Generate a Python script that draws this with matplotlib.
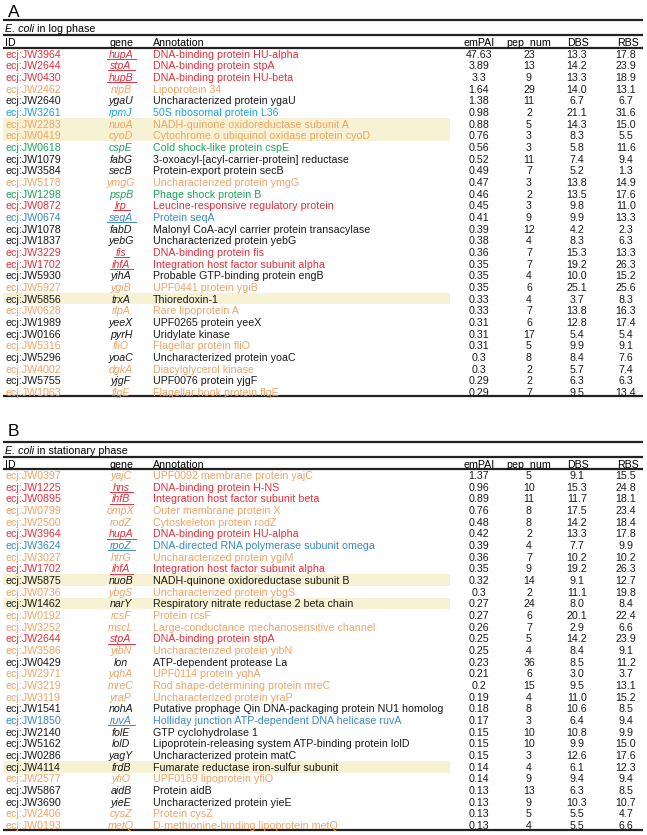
import matplotlib
matplotlib.use("Agg")
import matplotlib.pyplot as plt

plt.rcParams['font.family'] = ['Liberation Sans', 'DejaVu Sans']

# colours used in the table
colores = {'r': '#e3303c', 'o': '#f2a365', 'k': '#1a1a1a', 'c': '#1ba3de',
           'b': '#3b88c8', 'g': '#1ea35e'}
color_resaltado = '#f6f2d3'

# ---- Panel A: E. coli in log phase ----
ids_a = ['JW3964', 'JW2644', 'JW0430', 'JW2462', 'JW2640', 'JW3261', 'JW2283', 'JW0419',
         'JW0618', 'JW1079', 'JW3584', 'JW5178', 'JW1298', 'JW0872', 'JW0674', 'JW1078',
         'JW1837', 'JW3229', 'JW1702', 'JW5930', 'JW5927', 'JW5856', 'JW0628', 'JW1989',
         'JW0166', 'JW5316', 'JW5296', 'JW4002', 'JW5755', 'JW1063']
genes_a = ['hupA', 'stpA', 'hupB', 'nlpB', 'ygaU', 'rpmJ', 'nuoA', 'cyoD', 'cspE', 'fabG',
           'secB', 'ymgG', 'pspB', 'lrp', 'seqA', 'fabD', 'yebG', 'fis', 'ihfA', 'yihA',
           'ygiB', 'trxA', 'rlpA', 'yeeX', 'pyrH', 'fliO', 'yoaC', 'dgkA', 'yjgF', 'flgE']
anot_a = ['DNA-binding protein HU-alpha', 'DNA-binding protein stpA', 'DNA-binding protein HU-beta',
          'Lipoprotein 34', 'Uncharacterized protein ygaU', '50S ribosomal protein L36',
          'NADH-quinone oxidoreductase subunit A', 'Cytochrome o ubiquinol oxidase protein cyoD',
          'Cold shock-like protein cspE', '3-oxoacyl-[acyl-carrier-protein] reductase',
          'Protein-export protein secB', 'Uncharacterized protein ymgG', 'Phage shock protein B',
          'Leucine-responsive regulatory protein', 'Protein seqA',
          'Malonyl CoA-acyl carrier protein transacylase', 'Uncharacterized protein yebG',
          'DNA-binding protein fis', 'Integration host factor subunit alpha',
          'Probable GTP-binding protein engB', 'UPF0441 protein ygiB', 'Thioredoxin-1',
          'Rare lipoprotein A', 'UPF0265 protein yeeX', 'Uridylate kinase', 'Flagellar protein fliO',
          'Uncharacterized protein yoaC', 'Diacylglycerol kinase', 'UPF0076 protein yjgF',
          'Flagellar hook protein flgE']
empai_a = ['47.63', '3.89', '3.3', '1.64', '1.38', '0.98', '0.88', '0.76', '0.56', '0.52',
           '0.49', '0.47', '0.46', '0.45', '0.41', '0.39', '0.38', '0.36', '0.35', '0.35',
           '0.35', '0.33', '0.33', '0.31', '0.31', '0.31', '0.3', '0.3', '0.29', '0.29']
pep_a = [23, 13, 9, 29, 11, 2, 5, 3, 3, 11, 7, 3, 2, 3, 9, 12, 4, 7, 7, 4, 6, 4, 7, 6, 17, 5, 8, 2, 2, 7]
dbs_a = ['13.3', '14.2', '13.3', '14.0', '6.7', '21.1', '14.3', '8.3', '5.8', '7.4', '5.2', '13.8',
         '13.5', '9.8', '9.9', '4.2', '8.3', '15.3', '19.2', '10.0', '25.1', '3.7', '13.8', '12.8',
         '5.4', '9.9', '8.4', '5.7', '6.3', '9.5']
rbs_a = ['17.8', '23.9', '18.9', '13.1', '6.7', '31.6', '15.0', '5.5', '11.6', '9.4', '1.3', '14.9',
         '17.6', '11.0', '13.3', '2.3', '6.3', '13.3', '26.3', '15.2', '25.6', '8.3', '16.3', '17.4',
         '5.4', '9.1', '7.6', '7.4', '6.3', '13.4']
cat_a = ['r', 'r', 'r', 'o', 'k', 'c', 'o', 'o', 'g', 'k', 'k', 'o', 'g', 'r', 'b', 'k', 'k', 'r',
         'r', 'k', 'o', 'k', 'o', 'k', 'k', 'o', 'k', 'o', 'k', 'o']
resaltar_a = ['nuoA', 'cyoD', 'trxA']

# ---- Panel B: E. coli in stationary phase ----
ids_b = ['JW0397', 'JW1225', 'JW0895', 'JW0799', 'JW2500', 'JW3964', 'JW3624', 'JW3027',
         'JW1702', 'JW5875', 'JW0736', 'JW1462', 'JW0192', 'JW3252', 'JW2644', 'JW3586',
         'JW0429', 'JW2971', 'JW3219', 'JW3119', 'JW1541', 'JW1850', 'JW2140', 'JW5162',
         'JW0286', 'JW4114', 'JW2577', 'JW5867', 'JW3690', 'JW2406', 'JW0193']
genes_b = ['yajC', 'hns', 'ihfB', 'ompX', 'rodZ', 'hupA', 'rpoZ', 'htrG', 'ihfA', 'nuoB', 'ybgS',
           'narY', 'rcsF', 'mscL', 'stpA', 'yibN', 'lon', 'yqhA', 'mreC', 'yraP', 'nohA', 'ruvA',
           'folE', 'lolD', 'yagY', 'frdB', 'yfiO', 'aidB', 'yieE', 'cysZ', 'metQ']
anot_b = ['UPF0092 membrane protein yajC', 'DNA-binding protein H-NS',
          'Integration host factor subunit beta', 'Outer membrane protein X',
          'Cytoskeleton protein rodZ', 'DNA-binding protein HU-alpha',
          'DNA-directed RNA polymerase subunit omega', 'Uncharacterized protein ygiM',
          'Integration host factor subunit alpha', 'NADH-quinone oxidoreductase subunit B',
          'Uncharacterized protein ybgS', 'Respiratory nitrate reductase 2 beta chain',
          'Protein rcsF', 'Large-conductance mechanosensitive channel', 'DNA-binding protein stpA',
          'Uncharacterized protein yibN', 'ATP-dependent protease La', 'UPF0114 protein yqhA',
          'Rod shape-determining protein mreC', 'Uncharacterized protein yraP',
          'Putative prophage Qin DNA-packaging protein NU1 homolog',
          'Holliday junction ATP-dependent DNA helicase ruvA', 'GTP cyclohydrolase 1',
          'Lipoprotein-releasing system ATP-binding protein lolD', 'Uncharacterized protein matC',
          'Fumarate reductase iron-sulfur subunit', 'UPF0169 lipoprotein yfiO', 'Protein aidB',
          'Uncharacterized protein yieE', 'Protein cysZ', 'D-methionine-binding lipoprotein metQ']
empai_b = ['1.37', '0.96', '0.89', '0.76', '0.48', '0.42', '0.39', '0.36', '0.35', '0.32', '0.3',
           '0.27', '0.27', '0.26', '0.25', '0.25', '0.23', '0.21', '0.2', '0.19', '0.18', '0.17',
           '0.15', '0.15', '0.15', '0.14', '0.14', '0.13', '0.13', '0.13', '0.13']
pep_b = [5, 10, 11, 8, 8, 2, 4, 7, 9, 14, 2, 24, 6, 7, 5, 4, 36, 6, 15, 4, 8, 3, 10, 10, 3, 4, 9,
         13, 9, 5, 4]
dbs_b = ['9.1', '15.3', '11.7', '17.5', '14.2', '13.3', '7.7', '10.2', '19.2', '9.1', '11.1', '8.0',
         '20.1', '2.9', '14.2', '8.4', '8.5', '3.0', '9.5', '11.0', '10.6', '6.4', '10.8', '9.9',
         '12.6', '6.1', '9.4', '6.3', '10.3', '5.5', '5.5']
rbs_b = ['15.5', '24.8', '18.1', '23.4', '18.4', '17.8', '9.9', '10.2', '26.3', '12.7', '19.8', '8.4',
         '22.4', '6.6', '23.9', '9.1', '11.2', '3.7', '13.1', '15.2', '8.5', '9.4', '9.9', '15.0',
         '17.6', '12.3', '9.4', '8.5', '10.7', '4.7', '6.6']
cat_b = ['o', 'r', 'r', 'o', 'o', 'r', 'b', 'o', 'r', 'k', 'o', 'k', 'o', 'o', 'r', 'o', 'k', 'o',
         'o', 'o', 'k', 'b', 'k', 'k', 'k', 'k', 'o', 'k', 'k', 'o', 'o']
resaltar_b = ['nuoB', 'narY', 'frdB']

encabezados = ['ID', 'gene', 'Annotation', 'emPAI', 'pep_num', 'DBS', 'RBS']

fs = 7.7
paso = 11.67  # altura de fila en pixeles
dy = 1.0      # ajuste vertical del texto
x_izq, x_der = 3, 643

fig = plt.figure(figsize=(6.47, 8.35), dpi=100)
ax = fig.add_axes([0, 0, 1, 1])
ax.set_xlim(0, 647)
ax.set_ylim(835, 0)
ax.axis('off')

subrayar = []  # textos de genes que llevan subrayado
titulos = []


def dibujar_panel(top, letra, fase, ids, genes, anot, empai, pep, dbs, rbs, cat, resaltar, dl):
    ax.text(8, top - dl, letra, fontsize=12.5, va='center', ha='left')
    ax.plot([x_izq, x_der], [top, top], color='#222222', lw=1.6, solid_capstyle='butt')
    t = ax.text(5, top + 8.5 + dy, 'E. coli', fontsize=fs, style='italic', va='center', ha='left')
    titulos.append((t, fase, top + 8.5 + dy))
    ax.plot([x_izq, x_der], [top + 15, top + 15], color='#222222', lw=1.6, solid_capstyle='butt')
    yh = top + 22 + dy
    ax.text(5, yh, encabezados[0], fontsize=fs, va='center', ha='left')
    ax.text(121, yh, encabezados[1], fontsize=fs, va='center', ha='center')
    ax.text(153, yh, encabezados[2], fontsize=fs, va='center', ha='left')
    ax.text(479, yh, encabezados[3], fontsize=fs, va='center', ha='center')
    ax.text(529, yh, encabezados[4], fontsize=fs, va='center', ha='center')
    ax.text(578, yh, encabezados[5], fontsize=fs, va='center', ha='center')
    ax.text(628, yh, encabezados[6], fontsize=fs, va='center', ha='center')
    ax.plot([x_izq, x_der], [top + 27.5, top + 27.5], color='#222222', lw=1.6, solid_capstyle='butt')
    y0 = top + 33.5
    for i in range(len(ids)):
        y = y0 + i * paso
        yt = y + dy
        col = colores[cat[i]]
        if genes[i] in resaltar:
            ax.fill_between([x_izq, 450], y - paso / 2, y + paso / 2, color=color_resaltado, lw=0, zorder=0)
        ax.text(5, yt, 'ecj:' + ids[i], fontsize=fs, color=col, va='center', ha='left')
        tg = ax.text(121, yt, genes[i], fontsize=fs, color=col, style='italic', va='center', ha='center')
        if cat[i] in ('r', 'b'):
            subrayar.append((tg, y, col))
        ax.text(153, yt, anot[i], fontsize=fs, color=col, va='center', ha='left')
        ax.text(479, yt, empai[i], fontsize=fs, color='#1a1a1a', va='center', ha='center')
        ax.text(529, yt, str(pep[i]), fontsize=fs, color='#1a1a1a', va='center', ha='center')
        ax.text(577, yt, dbs[i], fontsize=fs, color='#1a1a1a', va='center', ha='center')
        ax.text(626, yt, rbs[i], fontsize=fs, color='#1a1a1a', va='center', ha='center')
    yb = y0 + (len(ids) - 1) * paso + 4.5
    ax.plot([x_izq, x_der], [yb, yb], color='#222222', lw=1.6, solid_capstyle='butt')


dibujar_panel(20, 'A', ' in log phase', ids_a, genes_a, anot_a, empai_a, pep_a, dbs_a, rbs_a,
              cat_a, resaltar_a, 7.5)
dibujar_panel(441.5, 'B', ' in stationary phase', ids_b, genes_b, anot_b, empai_b, pep_b, dbs_b,
              rbs_b, cat_b, resaltar_b, 10)

# posiciones que dependen del tamaño del texto
fig.canvas.draw()
r = fig.canvas.get_renderer()
inv = ax.transData.inverted()
for t, fase, y in titulos:
    bb = t.get_window_extent(r)
    x1 = inv.transform((bb.x1, bb.y0))[0]
    ax.text(x1, y, fase, fontsize=fs, va='center', ha='left')
for tg, y, col in subrayar:
    bb = tg.get_window_extent(r)
    xa = inv.transform((bb.x0, bb.y0))[0]
    xb = inv.transform((bb.x1, bb.y0))[0]
    ax.plot([xa - 2, xb + 3], [y + 5.2, y + 5.2], color=col, lw=0.7)

plt.savefig('out.png', dpi=100)
